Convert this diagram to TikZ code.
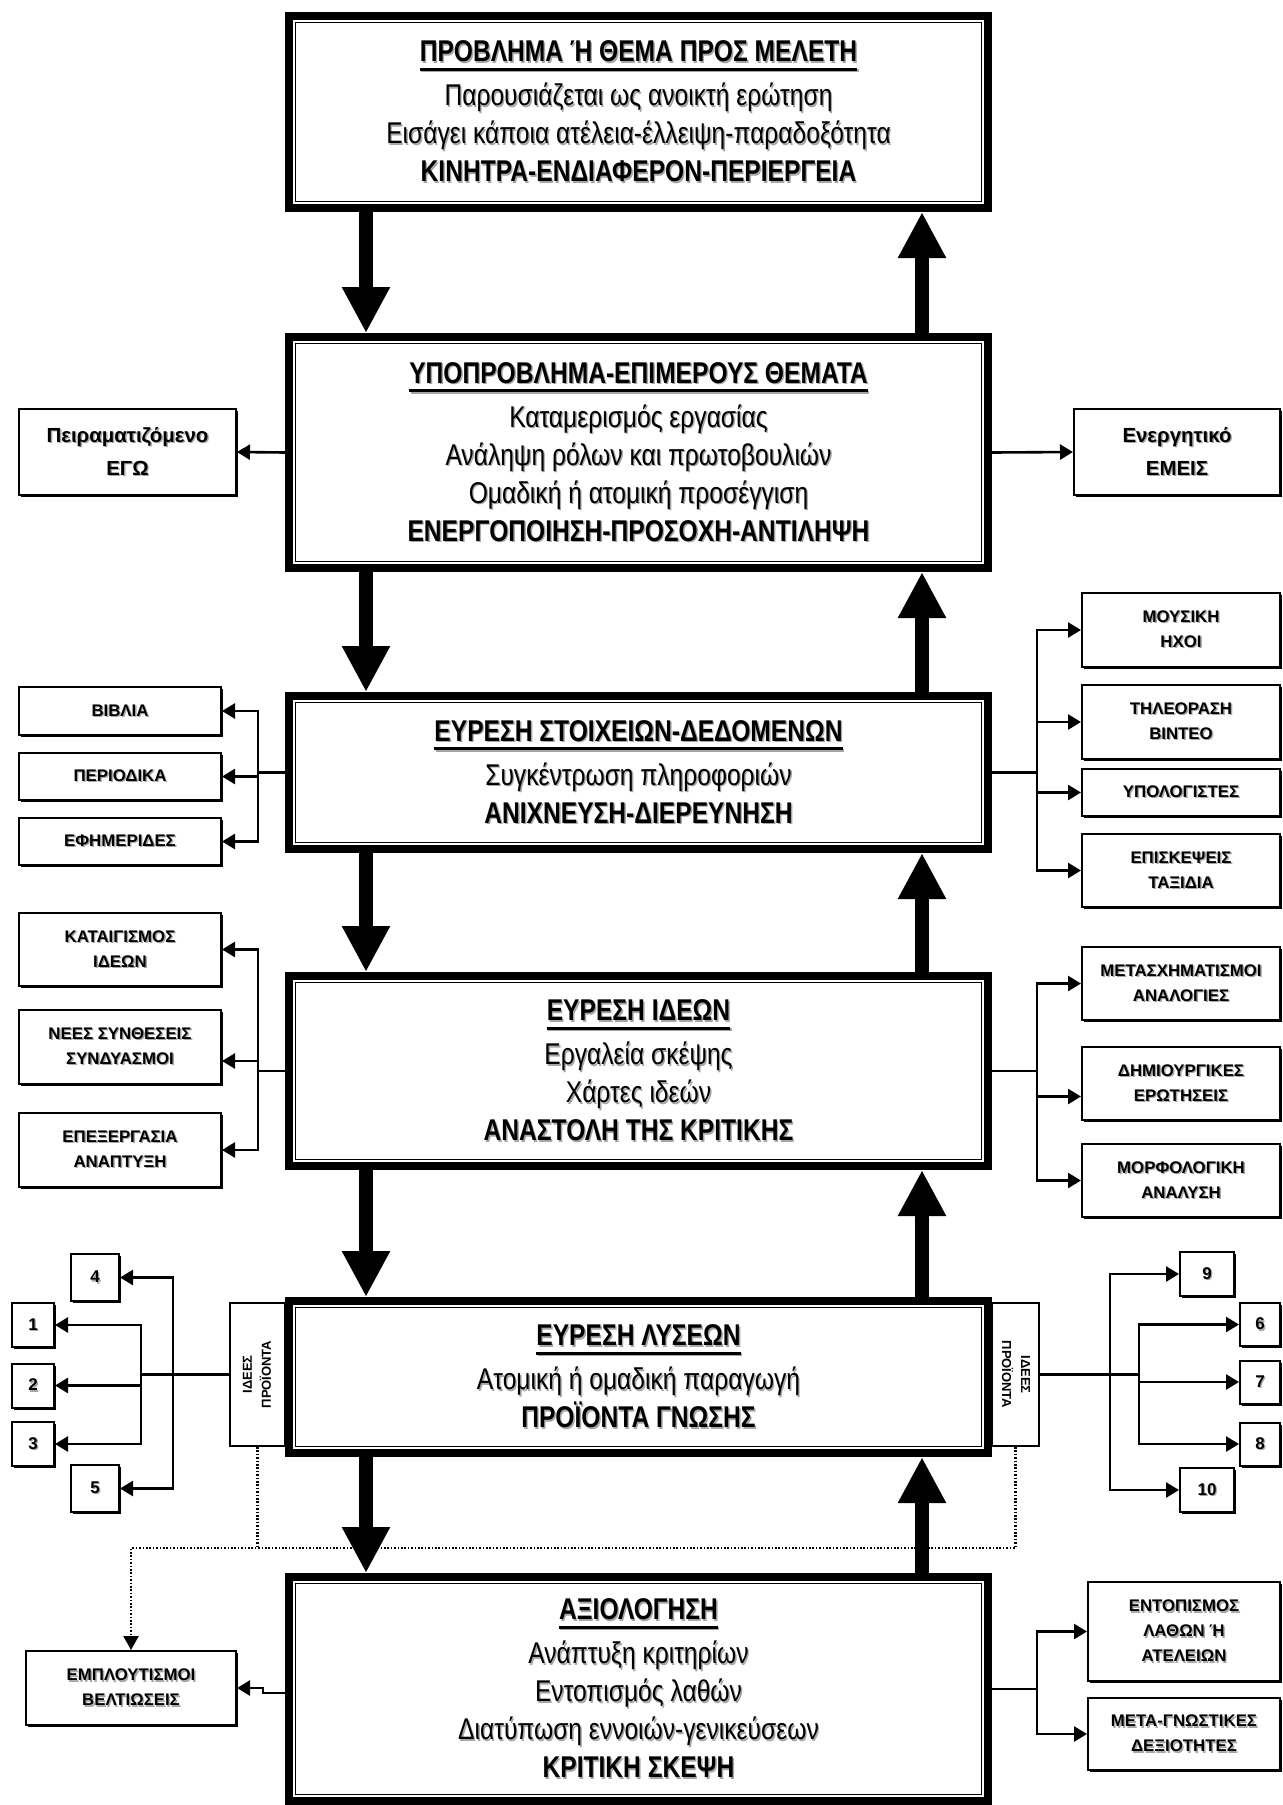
\documentclass[tikz,border=0pt]{standalone}
\usepackage{fontspec}
\usepackage{graphicx}
\setmainfont{Liberation Sans}[FakeStretch=0.82]
\newfontfamily\tabfont{Liberation Sans}
\usetikzlibrary{arrows.meta,shadows}

\newcommand{\sh}[1]{\leavevmode\rlap{\raisebox{-0.7pt}{\hspace{0.7pt}\textcolor{black!35}{#1}}}#1}
\newcommand{\hdbar}[1]{\setbox0=\hbox{#1}\rlap{\rule[-4.5pt]{\wd0}{1.4pt}}\copy0}
\newcommand{\hd}[1]{\sh{\bfseries\hdbar{#1}}}

\begin{document}
\begin{tikzpicture}[x=0.5pt,y=-0.5pt,
  stage/.style={draw,line width=3.4pt,fill=white,minimum width=350.1pt,inner sep=0pt,
    align=center,font=\fontsize{15}{19}\selectfont},
  inframe/.style={double,line width=0.5pt,double distance=0.75pt},
  side/.style={draw,line width=1pt,fill=white,inner sep=0pt,align=center,
    drop shadow={shadow xshift=1pt,shadow yshift=-1pt,fill=black,opacity=1},
    font=\tabfont\fontsize{8.4}{12.5}\selectfont\bfseries},
  num/.style={side,font=\tabfont\fontsize{8.5}{10}\selectfont\bfseries},
  tab/.style={draw,line width=1pt,fill=white,inner sep=0pt,align=center,
    font=\tabfont\fontsize{6.5}{9.5}\selectfont\bfseries},
  bigarr/.style={line width=7pt,-{Triangle[length=23pt,width=22.5pt]}},
  ln/.style={line width=1.3pt},
  arr/.style={ln,-{Triangle[length=6.5pt,width=7.5pt]}},
  dots/.style={line width=1.1pt,dash pattern=on 0.8pt off 0.9pt},
  dotarr/.style={dots,-{Triangle[length=7pt,width=7.5pt]}}]
  \useasboundingbox (0,0) rectangle (1282,1805);

  % branch columns
  \coordinate (dn) at (366,0);
  \coordinate (up) at (922,0);
  \coordinate (lx) at (258,0);
  \coordinate (rx) at (1037,0);
  \coordinate (lin) at (141,0);
  \coordinate (lout) at (173,0);
  \coordinate (rin) at (1139,0);
  \coordinate (rout) at (1110,0);
  \coordinate (dl) at (0,1548);

  % main stages
  \node[stage,minimum height=96.6pt] (prob) at (638.5,112)
    {\hd{ΠΡΟΒΛΗΜΑ Ή ΘΕΜΑ ΠΡΟΣ ΜΕΛΕΤΗ}\\[3pt]
     \sh{Παρουσιάζεται ως ανοικτή ερώτηση}\\
     \sh{Εισάγει κάποια ατέλεια-έλλειψη-παραδοξότητα}\\
     \sh{\textbf{ΚΙΝΗΤΡΑ-ΕΝΔΙΑΦΕΡΟΝ-ΠΕΡΙΕΡΓΕΙΑ}}};
  \node[stage,minimum height=116.1pt] (sub) at (638.5,452.5)
    {\hd{ΥΠΟΠΡΟΒΛΗΜΑ-ΕΠΙΜΕΡΟΥΣ ΘΕΜΑΤΑ}\\[3pt]
     \sh{Καταμερισμός εργασίας}\\
     \sh{Ανάληψη ρόλων και πρωτοβουλιών}\\
     \sh{Ομαδική ή ατομική προσέγγιση}\\
     \sh{\textbf{ΕΝΕΡΓΟΠΟΙΗΣΗ-ΠΡΟΣΟΧΗ-ΑΝΤΙΛΗΨΗ}}};
  \node[stage,minimum height=77.1pt] (data) at (638.5,772.5)
    {\hd{ΕΥΡΕΣΗ ΣΤΟΙΧΕΙΩΝ-ΔΕΔΟΜΕΝΩΝ}\\[3pt]
     \sh{Συγκέντρωση πληροφοριών}\\
     \sh{\textbf{ΑΝΙΧΝΕΥΣΗ-ΔΙΕΡΕΥΝΗΣΗ}}};
  \node[stage,minimum height=95.6pt] (ideas) at (638.5,1071)
    {\hd{ΕΥΡΕΣΗ ΙΔΕΩΝ}\\[3pt]
     \sh{Εργαλεία σκέψης}\\
     \sh{Χάρτες ιδεών}\\
     \sh{\textbf{ΑΝΑΣΤΟΛΗ ΤΗΣ ΚΡΙΤΙΚΗΣ}}};
  \node[tab,minimum width=27.5pt,minimum height=71.5pt] (tabL) at (257.5,1374.5)
    {\rotatebox{90}{\begin{tabular}{@{}c@{}}ΙΔΕΕΣ\\ΠΡΟΪΟΝΤΑ\end{tabular}}};
  \node[tab,minimum width=23.5pt,minimum height=71.5pt] (tabR) at (1015.5,1374.5)
    {\rotatebox{-90}{\begin{tabular}{@{}c@{}}ΙΔΕΕΣ\\ΠΡΟΪΟΝΤΑ\end{tabular}}};
  \node[stage,minimum height=76.6pt] (sol) at (638.5,1377)
    {\hd{ΕΥΡΕΣΗ ΛΥΣΕΩΝ}\\[3pt]
     \sh{Ατομική ή ομαδική παραγωγή}\\
     \sh{\textbf{ΠΡΟΪΟΝΤΑ ΓΝΩΣΗΣ}}};
  \node[stage,minimum height=112.6pt] (eval) at (638.5,1689)
    {\hd{ΑΞΙΟΛΟΓΗΣΗ}\\[3pt]
     \sh{Ανάπτυξη κριτηρίων}\\
     \sh{Εντοπισμός λαθών}\\
     \sh{Διατύπωση εννοιών-γενικεύσεων}\\
     \sh{\textbf{ΚΡΙΤΙΚΗ ΣΚΕΨΗ}}};
  \foreach \b in {prob,sub,data,ideas,sol,eval}
    \draw[inframe] ([shift={(4.4pt,4.4pt)}]\b.south west)
      rectangle ([shift={(-4.4pt,-4.4pt)}]\b.north east);

  % side boxes
  \node[side,minimum width=108.5pt,minimum height=43pt,font=\tabfont\fontsize{10.2}{16.5}\selectfont\bfseries]
    (ego) at (127.5,452) {\sh{Πειραματιζόμενο}\\\sh{ΕΓΩ}};
  \node[side,minimum width=103pt,minimum height=43pt,font=\tabfont\fontsize{10.2}{16.5}\selectfont\bfseries]
    (emeis) at (1177,452) {\sh{Ενεργητικό}\\\sh{ΕΜΕΙΣ}};
  \node[side,minimum width=101pt,minimum height=24pt] (books) at (120,711) {\sh{ΒΙΒΛΙΑ}};
  \node[side,minimum width=101pt,minimum height=23.5pt] (period) at (120,776.5) {\sh{ΠΕΡΙΟΔΙΚΑ}};
  \node[side,minimum width=101pt,minimum height=23.5pt] (news) at (120,841.5) {\sh{ΕΦΗΜΕΡΙΔΕΣ}};
  \node[side,minimum width=99pt,minimum height=37pt] (music) at (1181,630) {\sh{ΜΟΥΣΙΚΗ}\\\sh{ΗΧΟΙ}};
  \node[side,minimum width=99pt,minimum height=37pt] (tv) at (1181,722) {\sh{ΤΗΛΕΟΡΑΣΗ}\\\sh{ΒΙΝΤΕΟ}};
  \node[side,minimum width=99pt,minimum height=23.5pt] (pc) at (1181,792.5) {\sh{ΥΠΟΛΟΓΙΣΤΕΣ}};
  \node[side,minimum width=99pt,minimum height=36.5pt] (trips) at (1181,870.5) {\sh{ΕΠΙΣΚΕΨΕΙΣ}\\\sh{ΤΑΞΙΔΙΑ}};
  \node[side,minimum width=101pt,minimum height=36.5pt] (storm) at (120,949.5) {\sh{ΚΑΤΑΙΓΙΣΜΟΣ}\\\sh{ΙΔΕΩΝ}};
  \node[side,minimum width=101pt,minimum height=37pt] (synth) at (120,1047) {\sh{ΝΕΕΣ ΣΥΝΘΕΣΕΙΣ}\\\sh{ΣΥΝΔΥΑΣΜΟΙ}};
  \node[side,minimum width=101pt,minimum height=37pt] (elab) at (120,1150) {\sh{ΕΠΕΞΕΡΓΑΣΙΑ}\\\sh{ΑΝΑΠΤΥΞΗ}};
  \node[side,minimum width=99pt,minimum height=36.5pt] (trans) at (1181,983.5) {\sh{ΜΕΤΑΣΧΗΜΑΤΙΣΜΟΙ}\\\sh{ΑΝΑΛΟΓΙΕΣ}};
  \node[side,minimum width=99pt,minimum height=36.5pt] (quest) at (1181,1083.5) {\sh{ΔΗΜΙΟΥΡΓΙΚΕΣ}\\\sh{ΕΡΩΤΗΣΕΙΣ}};
  \node[side,minimum width=99pt,minimum height=36.5pt] (morph) at (1181,1180.5) {\sh{ΜΟΡΦΟΛΟΓΙΚΗ}\\\sh{ΑΝΑΛΥΣΗ}};
  \node[side,minimum width=105pt,minimum height=37pt] (rich) at (131,1688) {\sh{ΕΜΠΛΟΥΤΙΣΜΟΙ}\\\sh{ΒΕΛΤΙΩΣΕΙΣ}};
  \node[side,minimum width=96pt,minimum height=49.5pt] (errs) at (1184,1631.5) {\sh{ΕΝΤΟΠΙΣΜΟΣ}\\\sh{ΛΑΘΩΝ Ή}\\\sh{ΑΤΕΛΕΙΩΝ}};
  \node[side,minimum width=96pt,minimum height=36pt] (meta) at (1184,1734) {\sh{ΜΕΤΑ-ΓΝΩΣΤΙΚΕΣ}\\\sh{ΔΕΞΙΟΤΗΤΕΣ}};

  % numbered products
  \node[num,minimum width=24pt,minimum height=23.5pt] (n4) at (95,1277.5) {\sh{4}};
  \node[num,minimum width=21pt,minimum height=22pt] (n1) at (33,1325) {\sh{1}};
  \node[num,minimum width=21pt,minimum height=22pt] (n2) at (33,1385.5) {\sh{2}};
  \node[num,minimum width=21pt,minimum height=22pt] (n3) at (33,1444) {\sh{3}};
  \node[num,minimum width=24pt,minimum height=23.5pt] (n5) at (95,1488.5) {\sh{5}};
  \node[num,minimum width=27pt,minimum height=22pt] (n9) at (1207,1274) {\sh{9}};
  \node[num,minimum width=20pt,minimum height=21.5pt] (n6) at (1260,1324.5) {\sh{6}};
  \node[num,minimum width=20pt,minimum height=21.5pt] (n7) at (1260,1382) {\sh{7}};
  \node[num,minimum width=20pt,minimum height=21.5pt] (n8) at (1260,1444) {\sh{8}};
  \node[num,minimum width=27pt,minimum height=22pt] (n10) at (1207,1490) {\sh{10}};

  % main flow
  \foreach \a/\b in {prob/sub,sub/data,data/ideas,ideas/sol,sol/eval}{
    \draw[bigarr] (\a.south -| dn) -- (\b.north -| dn);
    \draw[bigarr] (\b.north -| up) -- (\a.south -| up);
  }

  \draw[arr] (sub.west) -- (ego.east);
  \draw[arr] (sub.east) -- (emeis.west);

  \draw[ln] (data.west) -- (data.west -| lx);
  \foreach \n in {books,period,news}
    \draw[arr] (data.west -| lx) |- (\n.east);
  \draw[ln] (data.east) -- (data.east -| rx);
  \foreach \n in {music,tv,pc,trips}
    \draw[arr] (data.east -| rx) |- (\n.west);

  \draw[ln] (ideas.west) -- (ideas.west -| lx);
  \draw[arr] (ideas.west -| lx) |- (storm.east);
  \draw[arr] (ideas.west -| lx) |- ([yshift=-7pt]synth.east);
  \draw[arr] (ideas.west -| lx) |- (elab.east);
  \draw[ln] (ideas.east) -- (ideas.east -| rx);
  \draw[arr] (ideas.east -| rx) |- (trans.west);
  \draw[arr] (ideas.east -| rx) |- ([yshift=-6.5pt]quest.west);
  \draw[arr] (ideas.east -| rx) |- (morph.west);

  \draw[ln] (tabL.west) -- (tabL.west -| lin);
  \foreach \n in {n1,n2,n3}
    \draw[arr] (tabL.west -| lin) |- (\n.east);
  \foreach \n in {n4,n5}
    \draw[arr] (tabL.west -| lout) |- (\n.east);
  \draw[ln] (tabR.east) -- (tabR.east -| rin);
  \foreach \n in {n6,n7,n8}
    \draw[arr] (tabR.east -| rin) |- (\n.west);
  \foreach \n in {n9,n10}
    \draw[arr] (tabR.east -| rout) |- (\n.west);

  % feedback
  \draw[dots] (tabL.south) -- (tabL.south |- dl);
  \draw[dotarr] (tabR.south) |- (rich.north |- dl) -- (rich.north);
  \draw[arr] ([yshift=-2pt]eval.west) -- ++(-11pt,0) |- (rich.east);

  \draw[ln] (eval.east) -- (eval.east -| rx);
  \foreach \n in {errs,meta}
    \draw[arr] (eval.east -| rx) |- (\n.west);
\end{tikzpicture}
\end{document}
